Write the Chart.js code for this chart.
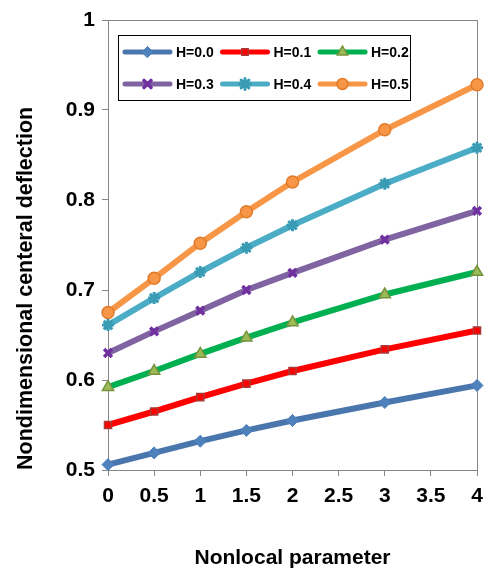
<!DOCTYPE html>
<html>
<head>
<meta charset="utf-8">
<script src="https://cdn.jsdelivr.net/npm/chart.js@4.4.1/dist/chart.umd.min.js"></script>
<style>
  html, body { margin: 0; padding: 0; background: #fff; }
</style>
</head>
<body>
<canvas id="myChart" width="486" height="571"></canvas>
<script>
// values
const xValues = [0, 0.5, 1, 1.5, 2, 3, 4];
const h00 = [0.506, 0.519, 0.532, 0.544, 0.555, 0.575, 0.594];
const h01 = [0.550, 0.565, 0.581, 0.596, 0.610, 0.634, 0.655];
const h02 = [0.592, 0.610, 0.629, 0.647, 0.664, 0.695, 0.720];
const h03 = [0.630, 0.654, 0.677, 0.700, 0.719, 0.756, 0.788];
const h04 = [0.661, 0.691, 0.720, 0.747, 0.772, 0.818, 0.858];
const h05 = [0.675, 0.713, 0.752, 0.787, 0.820, 0.878, 0.928];
const seriesLabels = ['H=0.0', 'H=0.1', 'H=0.2', 'H=0.3', 'H=0.4', 'H=0.5'];
const xTicks = [0, 0.5, 1, 1.5, 2, 2.5, 3, 3.5, 4];
const yTicks = [0.5, 0.6, 0.7, 0.8, 0.9, 1];

const FONT = "'Liberation Sans', Arial, sans-serif";
const AXIS_GREY = '#868686';

function makeSeries(label, values, line, style, fill, edge, radius, bw) {
    return {
        label: label,
        data: xValues.map((x, i) => ({x: x, y: values[i]})),
        borderColor: line,
        borderWidth: 6,
        pointStyle: style,
        pointRadius: radius,
        pointHoverRadius: radius,
        pointBackgroundColor: fill,
        pointBorderColor: edge,
        pointBorderWidth: bw,
        tension: 0,
        clip: false
    };
}

// legend box inside the plot, like the Excel original
const legendBox = {
    id: 'legendBox',
    afterDraw(chart) {
        const ctx = chart.ctx;
        ctx.save();
        ctx.fillStyle = '#fff';
        ctx.fillRect(118, 35, 292, 65);
        ctx.strokeStyle = '#000';
        ctx.lineWidth = 1;
        ctx.strokeRect(118.5, 35.5, 292, 65);
        chart.data.datasets.forEach((ds, i) => {
            const col = i % 3, row = Math.floor(i / 3);
            const x0 = 125 + col * 97.5;
            const y0 = 52 + row * 32;
            ctx.strokeStyle = ds.borderColor;
            ctx.lineWidth = 5;
            ctx.lineCap = 'round';
            ctx.beginPath();
            ctx.moveTo(x0, y0);
            ctx.lineTo(x0 + 45, y0);
            ctx.stroke();
            ctx.fillStyle = ds.pointBackgroundColor;
            ctx.strokeStyle = ds.pointBorderColor;
            ctx.lineWidth = ds.pointBorderWidth;
            Chart.helpers.drawPoint(ctx, {
                pointStyle: ds.pointStyle,
                radius: ds.pointRadius - 0.5,
                borderWidth: ds.pointBorderWidth,
                rotation: 0
            }, x0 + 22.5, y0);
            ctx.fillStyle = '#000';
            ctx.font = 'bold 14px ' + FONT;
            ctx.textBaseline = 'middle';
            ctx.textAlign = 'left';
            ctx.fillText(ds.label, x0 + 51, y0 + 1);
        });
        ctx.restore();
    }
};

// grey frame round the plot area
const plotFrame = {
    id: 'plotFrame',
    beforeDatasetsDraw(chart) {
        const a = chart.chartArea;
        const ctx = chart.ctx;
        ctx.save();
        ctx.strokeStyle = AXIS_GREY;
        ctx.lineWidth = 1;
        ctx.strokeRect(Math.round(a.left) + 0.5, Math.round(a.top) + 0.5,
                       Math.round(a.right - a.left), Math.round(a.bottom - a.top));
        ctx.restore();
    }
};

const ctx = document.getElementById('myChart').getContext('2d');
const myChart = new Chart(ctx, {
    type: 'line',
    data: {
        datasets: [
            makeSeries(seriesLabels[0], h00, '#4A76AE', 'rectRot', '#4F81BD', '#4A7EBB', 6, 1),
            makeSeries(seriesLabels[1], h01, '#FF0000', 'rect', '#FF0000', '#A83A38', 5, 1.5),
            makeSeries(seriesLabels[2], h02, '#00B050', 'triangle', '#9BBB59', '#77933C', 6.5, 1.5),
            makeSeries(seriesLabels[3], h03, '#8064A2', 'crossRot', '#7030A0', '#7030A0', 5.5, 3.5),
            makeSeries(seriesLabels[4], h04, '#4BACC6', 'star', '#3A9BB5', '#3A9BB5', 6, 3),
            makeSeries(seriesLabels[5], h05, '#F79646', 'circle', '#F79646', '#E07B2C', 6, 1.5)
        ]
    },
    options: {
        responsive: false,
        animation: false,
        events: [],
        layout: {
            padding: {top: 20, right: 9, left: 0, bottom: 0}
        },
        plugins: {
            legend: {display: false},
            tooltip: {enabled: false}
        },
        scales: {
            x: {
                type: 'linear',
                min: 0,
                max: 4,
                afterBuildTicks: (axis) => { axis.ticks = xTicks.map(v => ({value: v})); },
                afterFit: (axis) => {
                    axis.height = 101;
                    axis.paddingLeft = 0;
                    axis.paddingRight = 0;
                },
                ticks: {
                    color: '#000',
                    padding: 8,
                    maxRotation: 0,
                    callback: (v) => String(v),
                    font: {family: FONT, size: 21, weight: 'bold'}
                },
                grid: {drawOnChartArea: false, tickLength: 6, color: AXIS_GREY},
                border: {color: AXIS_GREY},
                title: {
                    display: true,
                    text: 'Nonlocal parameter',
                    color: '#000',
                    padding: {top: 0, bottom: 0},
                    font: {family: FONT, size: 21, weight: 'bold'}
                }
            },
            y: {
                type: 'linear',
                min: 0.5,
                max: 1,
                afterBuildTicks: (axis) => { axis.ticks = yTicks.map(v => ({value: v})); },
                afterFit: (axis) => { axis.width = 108; },
                ticks: {
                    color: '#000',
                    padding: 7,
                    callback: (v) => String(Math.round(v * 10) / 10),
                    font: {family: FONT, size: 21, weight: 'bold'}
                },
                grid: {drawOnChartArea: false, tickLength: 6, color: AXIS_GREY},
                border: {color: AXIS_GREY},
                title: {
                    display: true,
                    text: 'Nondimensional centeral deflection',
                    align: 'start',
                    color: '#000',
                    padding: {top: 13, bottom: 0},
                    font: {family: FONT, size: 21.5, weight: 'bold'}
                }
            }
        }
    },
    plugins: [plotFrame, legendBox]
});
</script>
</body>
</html>
